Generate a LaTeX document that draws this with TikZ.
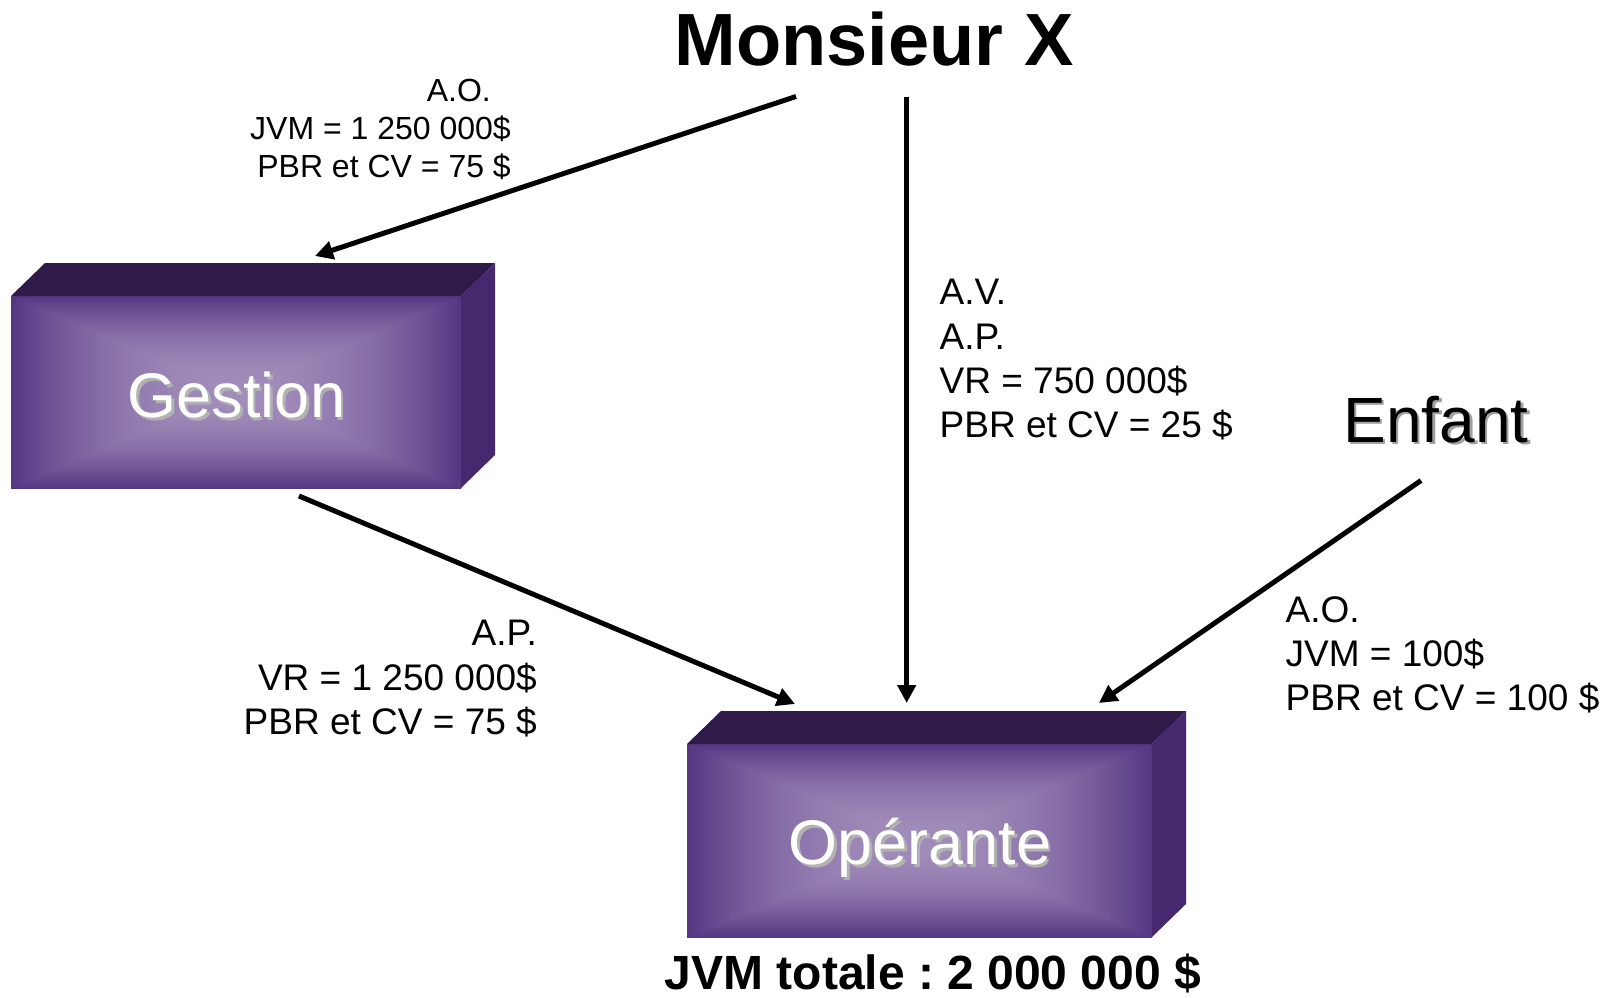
\documentclass[tikz,border=0pt]{standalone}
\usepackage{fontspec}
\setmainfont{Liberation Sans}
\usetikzlibrary{arrows.meta,calc}
\frenchspacing

\definecolor{boxtop}{RGB}{47,27,74}
\definecolor{boxright}{RGB}{69,40,110}
\definecolor{lightshadow}{RGB}{178,178,178}
\definecolor{darkshadow}{RGB}{160,160,160}

% rectangular glow: light centre fading to deep purple at the edges
% (the central 50bp square is what gets fitted to the face)
\pgfdeclarefunctionalshading{boxglow}{\pgfpoint{-50bp}{-50bp}}{\pgfpoint{50bp}{50bp}}{}{
  abs exch abs 2 copy lt {exch} if pop 25 div
  dup 1 gt {pop 1} if
  dup mul 1 exch sub
  dup 0.30 mul 0.33 add exch dup 0.34 mul 0.21 add exch 0.22 mul 0.51 add
}

% text with a soft offset shadow
\newcommand\shtext[2]{\rlap{\kern2.5pt\raisebox{-2.5pt}{\textcolor{#1}{#2}}}#2}

\begin{document}
\begin{tikzpicture}[x=1pt,y=-1pt,
  face/.style={shade, shading=boxglow, inner sep=0pt, outer sep=0pt},
  boxtext/.style={text=white, font=\fontsize{63}{63}\selectfont, inner sep=0pt, anchor=base},
  conn/.style={line width=5pt, -{Triangle[width=18pt,length=18pt]}},
  lbl/.style={font=\fontsize{37}{44.2}\selectfont, inner sep=0pt},
  smalllbl/.style={font=\fontsize{32}{38}\selectfont, inner sep=0pt}]
\useasboundingbox (0,0) rectangle (1610,997);

% --- Gestion block ---
\node[face, minimum width=450pt, minimum height=192pt] (gestion) at (236,392) {};
\fill[boxtop] (gestion.north west) -- ++(34,-33) -- ($(gestion.north east)+(34,-33)$) -- (gestion.north east) -- cycle;
\fill[boxright] (gestion.north east) -- ++(34,-33) -- ($(gestion.south east)+(34,-33)$) -- (gestion.south east) -- cycle;
\node[boxtext] (gestiontxt) at (236.5,417.5) {\shtext{lightshadow}{Gestion}};

% --- Opérante block ---
\node[face, minimum width=465pt, minimum height=193pt] (operante) at (919.5,840.5) {};
\fill[boxtop] (operante.north west) -- ++(34,-33) -- ($(operante.north east)+(34,-33)$) -- (operante.north east) -- cycle;
\fill[boxright] (operante.north east) -- ++(34,-33) -- ($(operante.south east)+(34,-33)$) -- (operante.south east) -- cycle;
\node[boxtext] (operantetxt) at (920,864.5) {\shtext{lightshadow}{Opérante}};

% --- shareholders ---
\node[anchor=base, inner sep=0pt, font=\bfseries\fontsize{74}{74}\selectfont] (mx) at (874,65) {Monsieur X};
\node[anchor=base, inner sep=0pt, font=\fontsize{64}{64}\selectfont] (enfant) at (1436,442) {\shtext{darkshadow}{Enfant}};

\node[anchor=base, inner sep=0pt, font=\bfseries\fontsize{48}{48}\selectfont] (total) at (933,989) {JVM totale : 2 000 000 \$};

% --- connector end points ---
\coordinate (mxL) at (796,96.5);
\coordinate (mxD) at (906.7,96.5);
\coordinate (gIn) at (315,256);
\coordinate (gOut) at (299,496);
\coordinate (oG) at (795,704);
\coordinate (oM) at (906.7,703);
\coordinate (oE) at (1099,703);
\coordinate (eOut) at (1421,480.5);

\draw[conn] (mxL) -- (gIn);
\draw[conn] (mxD) -- (oM);
\draw[conn] (gOut) -- (oG);
\draw[conn] (eOut) -- (oE);

% --- share descriptions ---
\node[smalllbl, anchor=north east, align=right] (lblG) at (511,79) {A.O.\hspace*{20pt}\\JVM = 1 250 000\$\\PBR et CV = 75 \$};
\node[lbl, anchor=north west, align=left] (lblM) at (939.5,279.3) {A.V.\\A.P.\\VR = 750 000\$\\PBR et CV = 25 \$};
\node[lbl, anchor=north east, align=right] (lblGO) at (537,620.3) {A.P.\\VR = 1 250 000\$\\PBR et CV = 75 \$};
\node[lbl, anchor=north west, align=left] (lblE) at (1285.5,596) {A.O.\\JVM = 100\$\\PBR et CV = 100 \$};
\end{tikzpicture}
\end{document}
